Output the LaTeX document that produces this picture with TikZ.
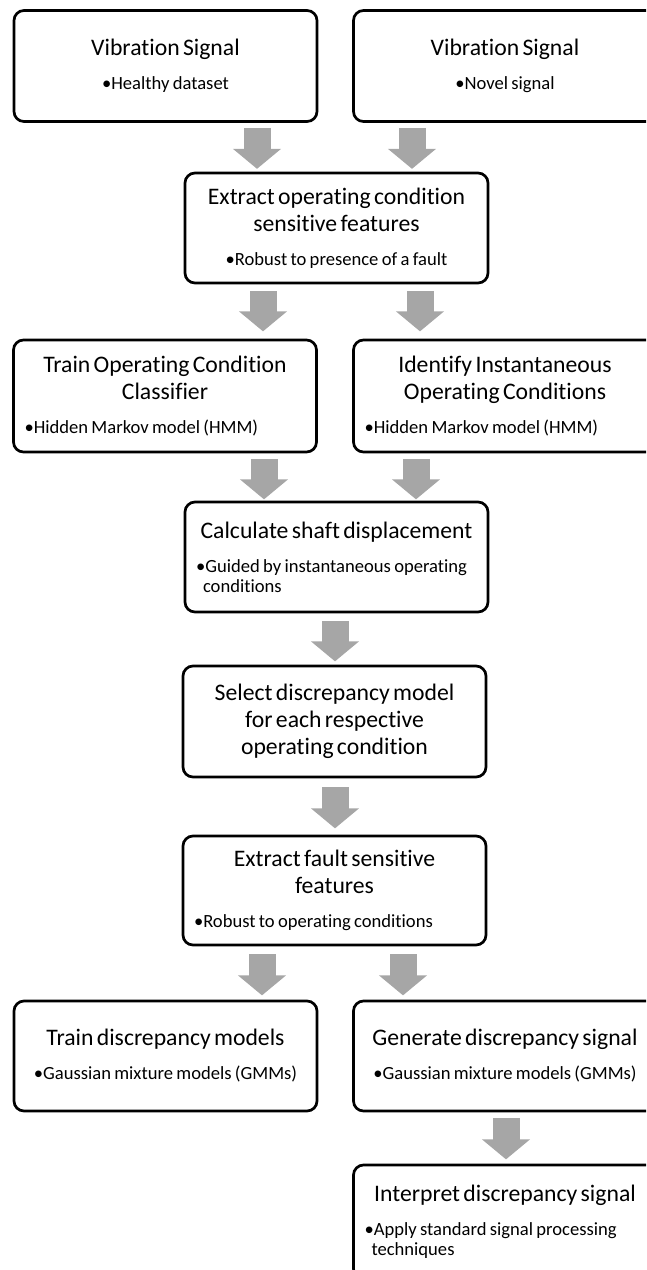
\documentclass[tikz,border=0pt]{standalone}
\usepackage{fontspec}
\setmainfont{Carlito}[Ligatures=NoCommon]
\usetikzlibrary{arrows.meta}

\definecolor{arrowgray}{RGB}{166,166,166}
\newcommand{\ttlfont}{\fontsize{23.7}{27}\selectfont}
\newcommand{\bulfont}{\fontsize{18.6}{20}\selectfont}

\tikzset{
  box/.style={draw, line width=2.7pt, rounded corners=10pt, align=center,
    minimum width=303pt, minimum height=111pt, text width=281pt, inner xsep=11pt},
  blkarrow/.style={draw=arrowgray, line width=27pt, -{Triangle[width=47pt, length=20pt]}}
}

\begin{document}
\begin{tikzpicture}[x=1pt, y=-1pt]
        \useasboundingbox (0,0) rectangle (646,1270);
        \clip (0,0) rectangle (646,1270);

        % 两个输入信号
        \node[box] (vib1) at (165.5,66) {{\ttlfont Vibration Signal\par}\vspace{14pt}{\bulfont •Healthy dataset\par}};
        \node[box] (vib2) at (505,66) {{\ttlfont Vibration Signal\par}\vspace{14pt}{\bulfont •Novel signal\par}};

        % 工况特征
        \node[box, minimum height=110pt] (extop) at (336.5,228) {{\ttlfont Extract operating condition\\ sensitive features\par}\vspace{14pt}{\bulfont •Robust to presence of a fault\par}};

        % 分类器
        \node[box, minimum height=112pt] (trainoc) at (165,396) {{\ttlfont Train Operating Condition\\ Classifier\par}\vspace{14pt}{\bulfont\raggedright •Hidden Markov model (HMM)\par}};
        \node[box, minimum height=112pt] (identoc) at (505,396) {{\ttlfont Identify Instantaneous\\ Operating Conditions\par}\vspace{14pt}{\bulfont\raggedright •Hidden Markov model (HMM)\par}};

        % 轴位移
        \node[box, minimum height=110pt] (shaft) at (336.5,557) {{\ttlfont Calculate shaft displacement\par}\vspace{14pt}{\bulfont\raggedright\hangindent=7pt\hangafter=1 •Guided by instantaneous operating conditions\par}};

        % 差异模型
        \node[box] (select) at (334.5,721.5) {{\ttlfont Select discrepancy model\\ for each respective\\ operating condition\par}};

        % 故障特征
        \node[box, minimum height=109pt] (extfault) at (334.5,890.5) {{\ttlfont Extract fault sensitive\\ features\par}\vspace{14pt}{\bulfont\raggedright •Robust to operating conditions\par}};

        % 训练 / 生成
        \node[box, minimum height=110pt] (traindm) at (165.5,1056) {{\ttlfont Train discrepancy models\par}\vspace{14pt}{\bulfont •Gaussian mixture models (GMMs)\par}};
        \node[box, minimum height=110pt] (gends) at (505,1056) {{\ttlfont Generate discrepancy signal\par}\vspace{14pt}{\bulfont •Gaussian mixture models (GMMs)\par}};

        % 解释
        \node[box, minimum height=114pt] (interp) at (505,1222) {{\ttlfont Interpret discrepancy signal\par}\vspace{14pt}{\bulfont\raggedright\hangindent=7pt\hangafter=1 •Apply standard signal processing techniques\par}};

        % 箭头位置
        \coordinate (c1) at (257,0);
        \coordinate (c2) at (412,0);
        \coordinate (c3) at (263,0);
        \coordinate (c4) at (420,0);
        \coordinate (c5) at (264,0);
        \coordinate (c6) at (416,0);
        \coordinate (c7) at (335,0);
        \coordinate (c8) at (262,0);
        \coordinate (c9) at (403,0);
        \coordinate (c10) at (506,0);

        % 箭头
        \draw[blkarrow] (vib1.south -| c1) ++(0,5) -- ++(0,41);
        \draw[blkarrow] (vib2.south -| c2) ++(0,5) -- ++(0,41);
        \draw[blkarrow] (extop.south -| c3) ++(0,7) -- ++(0,40);
        \draw[blkarrow] (extop.south -| c4) ++(0,7) -- ++(0,40);
        \draw[blkarrow] (trainoc.south -| c5) ++(0,6) -- ++(0,40);
        \draw[blkarrow] (identoc.south -| c6) ++(0,6) -- ++(0,40);
        \draw[blkarrow] (shaft.south -| c7) ++(0,8) -- ++(0,40);
        \draw[blkarrow] (select.south -| c7) ++(0,9) -- ++(0,41);
        \draw[blkarrow] (extfault.south -| c8) ++(0,8) -- ++(0,41);
        \draw[blkarrow] (extfault.south -| c9) ++(0,8) -- ++(0,41);
        \draw[blkarrow] (gends.south -| c10) ++(0,6) -- ++(0,41);
\end{tikzpicture}
\end{document}
